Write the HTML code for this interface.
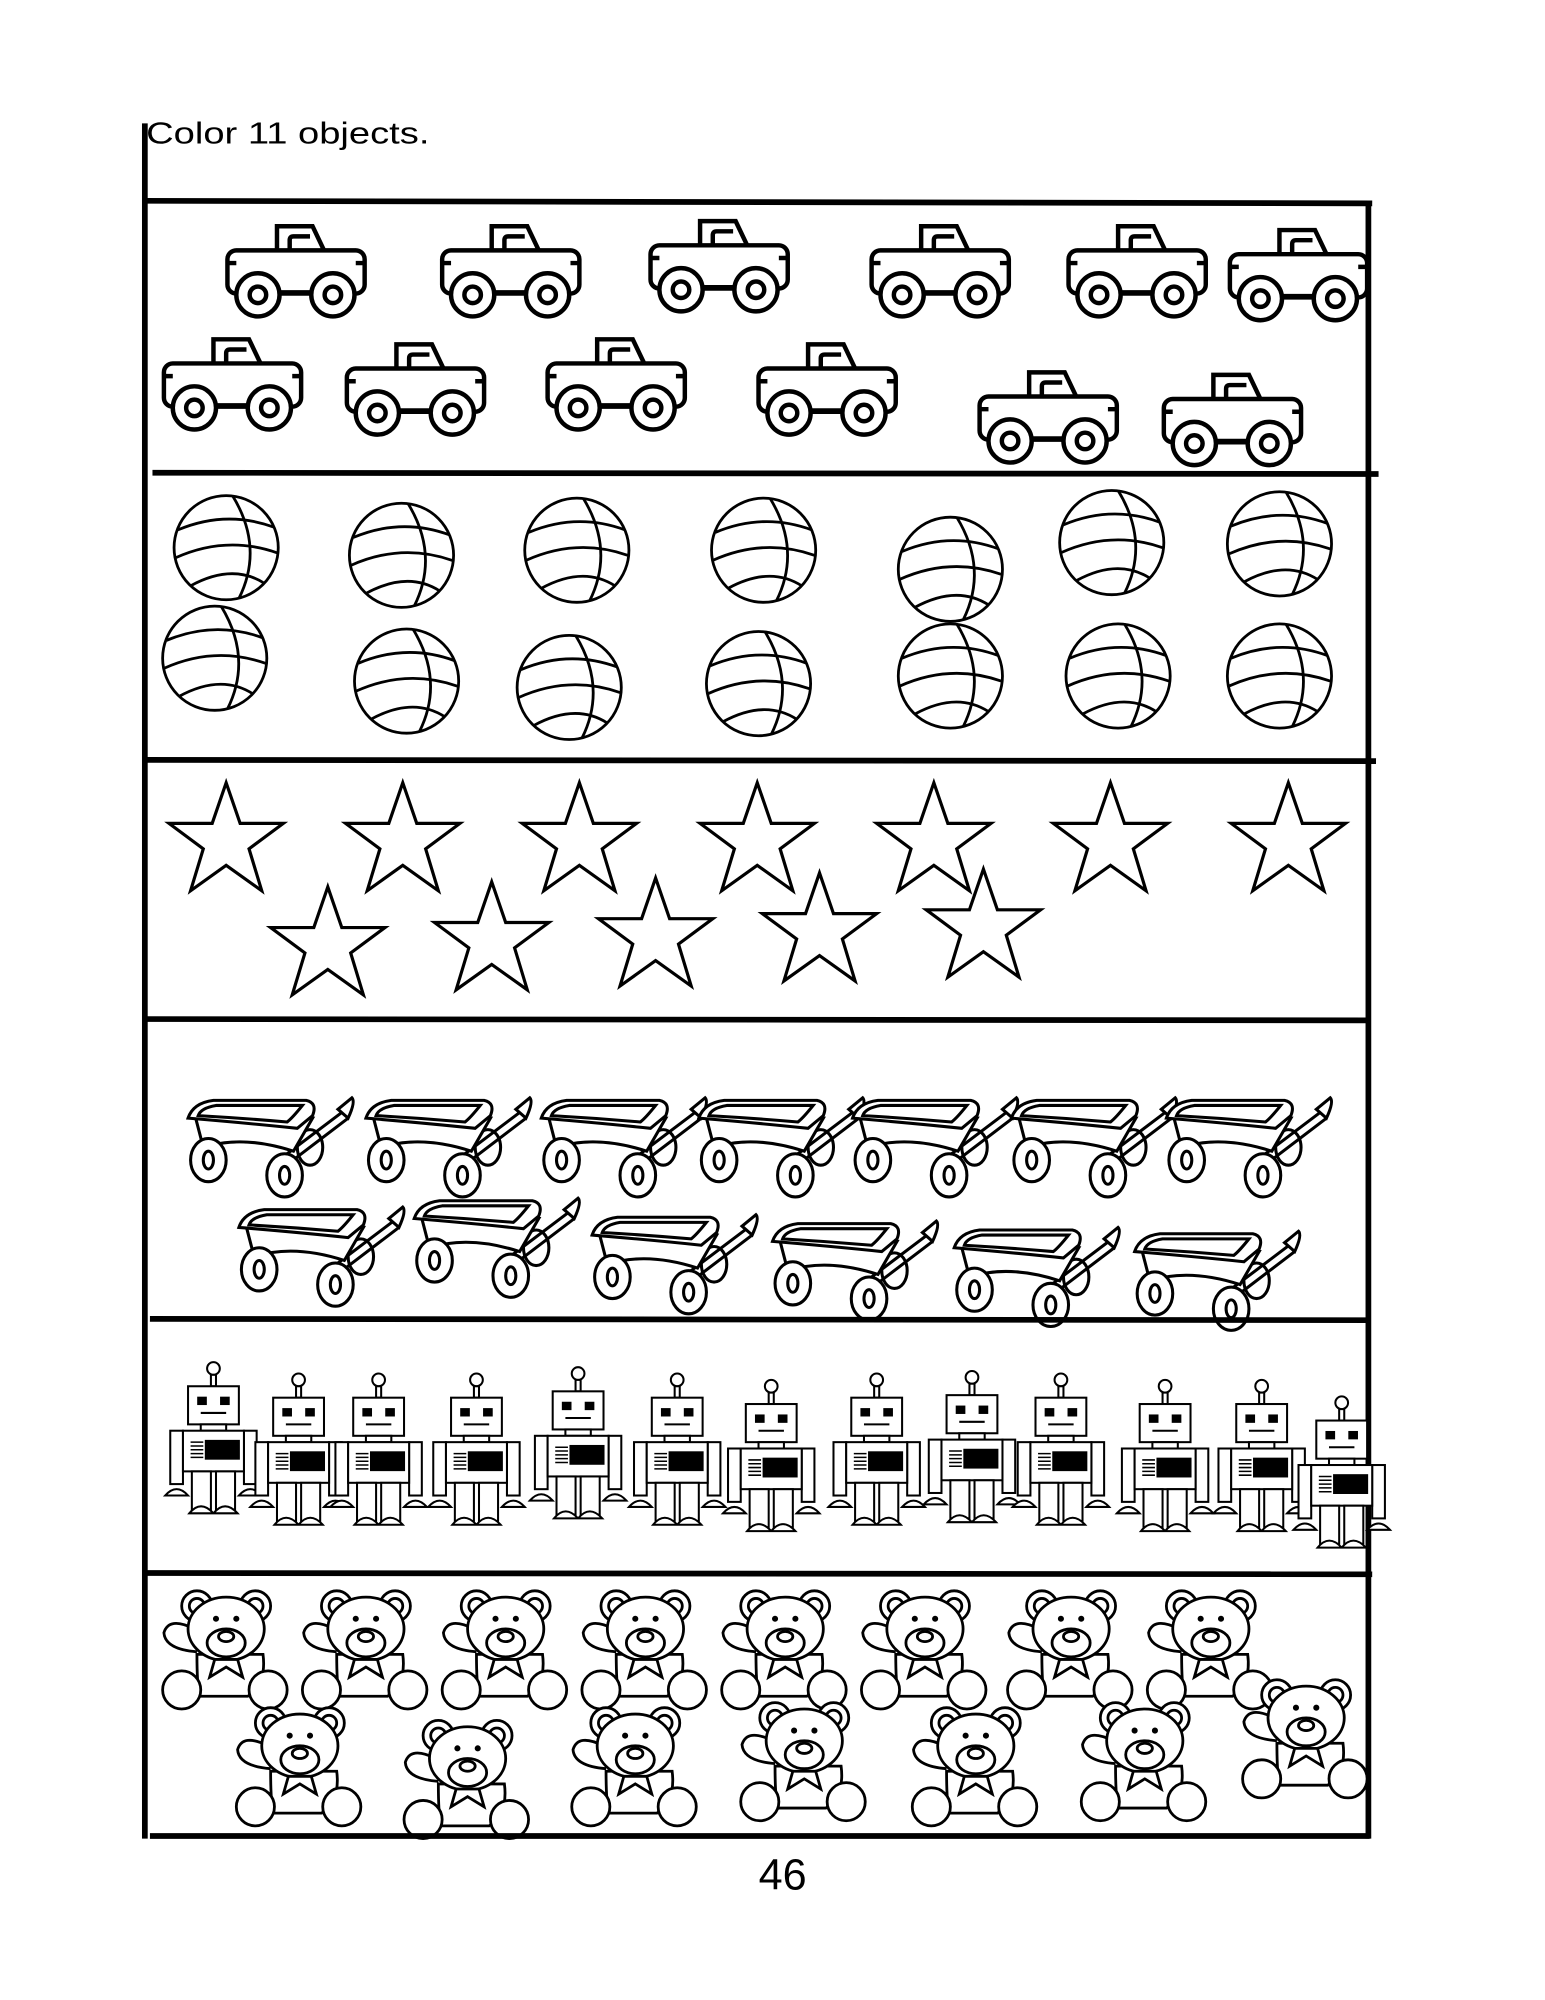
<!DOCTYPE html>
<html><head><meta charset="utf-8"><style>
html,body{margin:0;padding:0;background:#fff;width:1545px;height:2000px;overflow:hidden}
svg{position:absolute;left:0;top:0}
.t{font-family:"Liberation Sans",sans-serif;fill:#000}
</style></head><body>
<svg width="1545" height="2000" viewBox="0 0 1216 1574" xmlns="http://www.w3.org/2000/svg">
<defs>
<g id="car" fill="none" stroke="#000" stroke-width="3.5">
<path d="M40,22 V1 H68 L78,22"/>
<path d="M50,22 V12 Q50,9 53,9 H66"/>
<rect x="1" y="20" width="108" height="34" rx="7" fill="#fff"/>
<path d="M1,30 H8 M102,30 H109"/>
<circle cx="25" cy="55" r="17" fill="#fff"/><circle cx="25" cy="55" r="6.5"/>
<circle cx="84" cy="55" r="17" fill="#fff"/><circle cx="84" cy="55" r="6.5"/>
<path d="M42,53 H67"/>
</g>
<g id="ball" fill="none" stroke="#000" stroke-width="2.2">
<circle cx="0" cy="0" r="41" fill="#fff"/>
<path d="M-38,-14 Q0,-30 38,-16"/><path d="M-40,8 Q0,-10 40,4"/><path d="M-28,30 Q5,12 30,28"/>
<path d="M5,-41 Q30,0 10,40"/>
</g>
<polygon id="star" points="0,-47 11,-15 45,-15 18,5 28,38 0,18 -28,38 -18,5 -45,-15 -11,-15" fill="#fff" stroke="#000" stroke-width="2.5"/>
<g id="wag" fill="#fff" stroke="#000" stroke-width="2.4">
<ellipse cx="98" cy="45" rx="10" ry="14"/>
<path d="M80,50 L125,16 M86,54 L128,22"/>
<path d="M120,15 L131,6 Q134,9 128,22 Z"/>
<path d="M8,22 L14,45 Q45,35 85,48 L100,22 Z"/>
<path d="M2,22 Q6,10 22,8 L95,8 Q104,10 100,20 L88,30 Q50,26 2,22 Z"/>
<path d="M10,20 Q12,14 24,12 L92,12 Q84,22 80,25 Q45,22 10,20 Z"/>
<ellipse cx="18" cy="55" rx="14" ry="17"/><ellipse cx="18" cy="55" rx="4" ry="7"/>
<ellipse cx="78" cy="67" rx="14" ry="17"/><ellipse cx="78" cy="67" rx="4" ry="7"/>
</g>
<g id="rob" fill="#fff" stroke="#000" stroke-width="1.6">
<circle cx="35" cy="6" r="5"/><rect x="33" y="11" width="4" height="9"/>
<rect x="15" y="20" width="40" height="30"/>
<rect x="23" y="29" width="6" height="5" fill="#000"/><rect x="41" y="29" width="6" height="5" fill="#000"/>
<path d="M25,41 H45"/>
<rect x="25" y="50" width="20" height="5"/>
<rect x="1" y="55" width="10" height="42"/><rect x="59" y="55" width="10" height="42"/>
<rect x="11" y="55" width="48" height="32"/>
<path d="M17,64 H27 M17,67 H27 M17,70 H27 M17,73 H27 M17,76 H27" stroke-width="1.2"/>
<rect x="29" y="63" width="26" height="14" fill="#000"/>
<rect x="18" y="87" width="15" height="30"/><rect x="37" y="87" width="15" height="30"/>
<path d="M-3,106 Q6,96 15,106 Z M55,106 Q64,96 73,106 Z M16,120 Q25,109 35,120 Z M35,120 Q44,109 54,120 Z"/>
</g>
<g id="bear" fill="#fff" stroke="#000" stroke-width="2.2">
<circle cx="30" cy="14" r="12"/><circle cx="30" cy="14" r="6"/>
<circle cx="76" cy="14" r="12"/><circle cx="76" cy="14" r="6"/>
<path d="M30,50 Q5,48 4,35 Q8,22 28,32"/>
<path d="M30,52 Q30,75 32,85 L70,85 Q85,75 82,52 Z"/>
<ellipse cx="53" cy="32" rx="30" ry="25"/>
<ellipse cx="53" cy="43" rx="15" ry="11"/><ellipse cx="53" cy="38" rx="6" ry="4"/>
<path d="M44,56 L40,70 L53,62 L66,70 L62,56 Z"/>
<circle cx="18" cy="80" r="15"/><circle cx="86" cy="80" r="15"/>
<circle cx="45" cy="24" r="1.3" fill="#000"/><circle cx="61" cy="24" r="1.3" fill="#000"/>
</g>
</defs>
<text class="t" x="115" y="113" font-size="24" textLength="223" lengthAdjust="spacingAndGlyphs">Color 11 objects.</text>
<g stroke="#000" stroke-width="4.5" fill="none">
<path d="M114,97 V1447"/>
<path d="M1077,158 V1447"/>
</g>
<use href="#car" x="178" y="177"/><use href="#car" x="347" y="177"/><use href="#car" x="511" y="173"/>
<use href="#car" x="685" y="177"/><use href="#car" x="840" y="177"/><use href="#car" x="967" y="180"/>
<use href="#car" x="128" y="266"/><use href="#car" x="272" y="270"/><use href="#car" x="430" y="266"/>
<use href="#car" x="596" y="270"/><use href="#car" x="770" y="292"/><use href="#car" x="915" y="294"/>
<use href="#ball" x="178" y="431"/><use href="#ball" x="316" y="437"/><use href="#ball" x="454" y="433"/>
<use href="#ball" x="601" y="433"/><use href="#ball" x="748" y="448"/><use href="#ball" x="875" y="427"/>
<use href="#ball" x="1007" y="428"/>
<use href="#ball" x="169" y="518"/><use href="#ball" x="320" y="536"/><use href="#ball" x="448" y="541"/>
<use href="#ball" x="597" y="538"/><use href="#ball" x="748" y="532"/><use href="#ball" x="880" y="532"/>
<use href="#ball" x="1007" y="532"/>
<use href="#star" x="178" y="663"/><use href="#star" x="317" y="663"/><use href="#star" x="456" y="663"/>
<use href="#star" x="596" y="663"/><use href="#star" x="735" y="663"/><use href="#star" x="874" y="663"/>
<use href="#star" x="1014" y="663"/>
<use href="#star" x="258" y="745"/><use href="#star" x="387" y="741"/><use href="#star" x="516" y="738"/>
<use href="#star" x="645" y="734"/><use href="#star" x="774" y="731"/>
<use href="#wag" x="146" y="858"/><use href="#wag" x="286" y="858"/><use href="#wag" x="424" y="858"/>
<use href="#wag" x="548" y="858"/><use href="#wag" x="669" y="858"/><use href="#wag" x="794" y="858"/>
<use href="#wag" x="916" y="858"/>
<use href="#wag" x="186" y="944"/><use href="#wag" x="324" y="937"/><use href="#wag" x="464" y="950"/>
<use href="#wag" x="606" y="955"/><use href="#wag" x="749" y="960"/><use href="#wag" x="891" y="963"/>
<use href="#rob" x="133" y="1071"/><use href="#rob" x="200" y="1080"/><use href="#rob" x="263" y="1080"/>
<use href="#rob" x="340" y="1080"/><use href="#rob" x="420" y="1075"/><use href="#rob" x="498" y="1080"/>
<use href="#rob" x="572" y="1085"/><use href="#rob" x="655" y="1080"/><use href="#rob" x="730" y="1078"/>
<use href="#rob" x="800" y="1080"/><use href="#rob" x="882" y="1085"/><use href="#rob" x="958" y="1085"/>
<use href="#rob" x="1021" y="1098"/>
<use href="#bear" x="125" y="1250"/><use href="#bear" x="235" y="1250"/><use href="#bear" x="345" y="1250"/>
<use href="#bear" x="455" y="1250"/><use href="#bear" x="565" y="1250"/><use href="#bear" x="675" y="1250"/>
<use href="#bear" x="790" y="1250"/><use href="#bear" x="900" y="1250"/>
<use href="#bear" x="183" y="1342"/><use href="#bear" x="315" y="1352"/><use href="#bear" x="447" y="1342"/>
<use href="#bear" x="580" y="1338"/><use href="#bear" x="715" y="1342"/><use href="#bear" x="848" y="1338"/>
<use href="#bear" x="975" y="1320"/>
<g stroke="#000" stroke-width="4.5" fill="none">
<path d="M113,158 L1080,160"/>
<path d="M120,372 L1085,373"/>
<path d="M113,598 L1083,599"/>
<path d="M113,802 L1077,803"/>
<path d="M118,1038 L1078,1039"/>
<path d="M113,1238 L1080,1239"/>
<path d="M118,1445 L1078,1445"/>
</g>
<text class="t" x="616" y="1487" font-size="34" text-anchor="middle">46</text>
</svg>
</body></html>
